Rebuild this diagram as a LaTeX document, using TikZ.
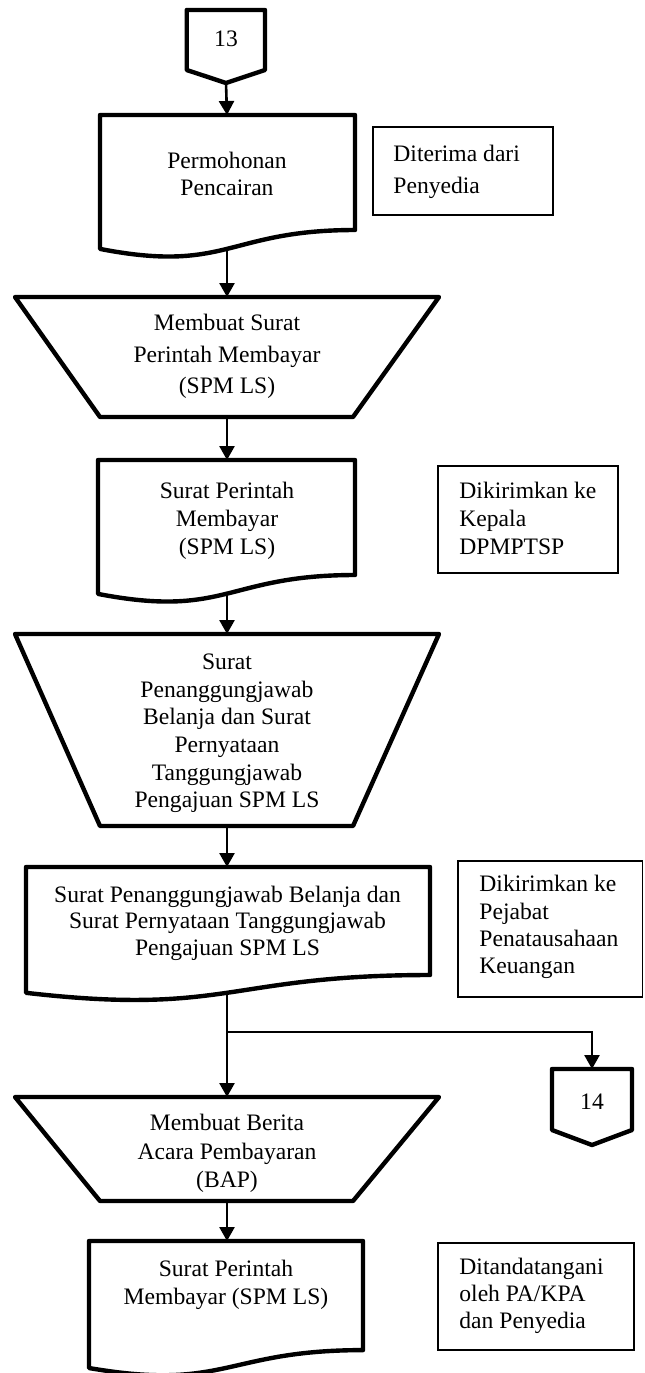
\documentclass[tikz,border=0pt]{standalone}
\usepackage{fontspec}
\setmainfont{Liberation Serif}
\usetikzlibrary{arrows.meta}
\newcommand\myfs[1]{\fontsize{11.8}{#1}\selectfont}
\tikzset{
  flow/.style={draw=black, line width=2.2pt, line join=round, fill=white},
  conn/.style={draw=black, line width=1.3pt},
  arr/.style={conn, -{Triangle[length=7pt,width=7.5pt]}},
  notebox/.style={draw=black, line width=0.6pt},
  lbl/.style={align=center, inner sep=0pt},
  notetxt/.style={align=left, inner sep=0pt, anchor=west},
}
\begin{document}
\begin{tikzpicture}[x=0.5pt, y=-0.5pt]
\useasboundingbox (0,0) rectangle (644,1373);

% ---- shapes ----
% off-page connector 13
\draw[flow] (186.7,10) -- (265,10) -- (265,70) -- (226,83) -- (186.7,70) -- cycle;
% document 1
\draw[flow] (100,115) -- (355,115) -- (355,230) .. controls (227.5,230) and (227.5,273.7) .. (100,248.9) -- cycle;
% trapezoid 1
\draw[flow] (15,297) -- (439,297) -- (353,417) -- (100,417) -- cycle;
% document 2
\draw[flow] (98,460) -- (355,460) -- (355,575) .. controls (226.5,575) and (226.5,618.7) .. (98,593.9) -- cycle;
% trapezoid 2
\draw[flow] (15,634) -- (439,634) -- (353,826) -- (100,826) -- cycle;
% document 3
\draw[flow] (26,867) -- (430,867) -- (430,975) .. controls (228,975) and (228,1016.1) .. (26,992.8) -- cycle;
% trapezoid 3
\draw[flow] (15,1097) -- (439,1097) -- (353,1201) -- (100,1201) -- cycle;
% document 4
\draw[flow] (89,1241) -- (363,1241) -- (363,1350.1) .. controls (226,1350.1) and (226,1391.6) .. (89,1368) -- cycle;
% off-page connector 14
\draw[flow] (552,1069) -- (632,1069) -- (632,1130) -- (592,1145) -- (552,1130) -- cycle;

% notes
\draw[notebox] (373,127) rectangle (553,215);
\draw[notebox] (438,466) rectangle (618,573);
\draw[notebox] (458,861) rectangle (642.5,997);
\draw[notebox] (438,1243) rectangle (634,1350);

% ---- texts ----
\node[lbl, anchor=base, font=\myfs{14}] (c13) at (226,46.5) {13};
\node[lbl, font=\myfs{13.5}] (d1) at (227,173.5) {Permohonan\\Pencairan};
\node[lbl, font=\myfs{15.75}] (p1) at (227,356.5) {Membuat Surat\\Perintah Membayar\\(SPM LS)};
\node[lbl, font=\myfs{14}] (d2) at (227,521) {Surat Perintah\\Membayar\\(SPM LS)};
\node[lbl, font=\myfs{13.8}] (p2) at (227,733.5) {Surat\\Penanggungjawab\\Belanja dan Surat\\Pernyataan\\Tanggungjawab\\Pengajuan SPM LS};
\node[lbl, font=\myfs{13.25}] (d3) at (227.5,923) {Surat Penanggungjawab Belanja dan\\Surat Pernyataan Tanggungjawab\\Pengajuan SPM LS};
\node[lbl, font=\myfs{14.25}] (p3) at (227,1153.5) {Membuat Berita\\Acara Pembayaran\\(BAP)};
\node[lbl, font=\myfs{14}] (d4) at (226,1284.4) {Surat Perintah\\Membayar (SPM LS)};
\node[lbl, anchor=base, font=\myfs{14}] (c14) at (592,1109) {14};

\node[notetxt, font=\myfs{16}] (n1) at (393,171.5) {Diterima dari\\Penyedia};
\node[notetxt, font=\myfs{14}] (n2) at (459,518) {Dikirimkan ke\\Kepala\\DPMPTSP};
\node[notetxt, font=\myfs{13.6}] (n3) at (479,927) {Dikirimkan ke\\Pejabat\\Penatausahaan\\Keuangan};
\node[notetxt, font=\myfs{13.5}] (n4) at (459,1295.5) {Ditandatangani\\oleh PA/KPA\\dan Penyedia};

% ---- connector ports ----
\coordinate (c13b) at (226,83);
\coordinate (d1t) at (227,115);
\coordinate (d1b) at (227,249);
\coordinate (p1t) at (227,297);
\coordinate (p1b) at (227,417);
\coordinate (d2t) at (227,460);
\coordinate (d2b) at (227,594);
\coordinate (p2t) at (227,634);
\coordinate (p2b) at (227,826);
\coordinate (d3t) at (227,867);
\coordinate (d3b) at (227,993);
\coordinate (br) at (227,1032);
\coordinate (p3t) at (227,1097);
\coordinate (p3b) at (227,1201);
\coordinate (d4t) at (227,1241);
\coordinate (c14t) at (592,1069);

% ---- connectors ----
\draw[arr] (c13b) -- (d1t);
\draw[arr] (d1b) -- (p1t);
\draw[arr] (p1b) -- (d2t);
\draw[arr] (d2b) -- (p2t);
\draw[arr] (p2b) -- (d3t);
\draw[arr] (d3b) -- (p3t);
\draw[arr] (br) -| (c14t);
\draw[arr] (p3b) -- (d4t);
\end{tikzpicture}
\end{document}
